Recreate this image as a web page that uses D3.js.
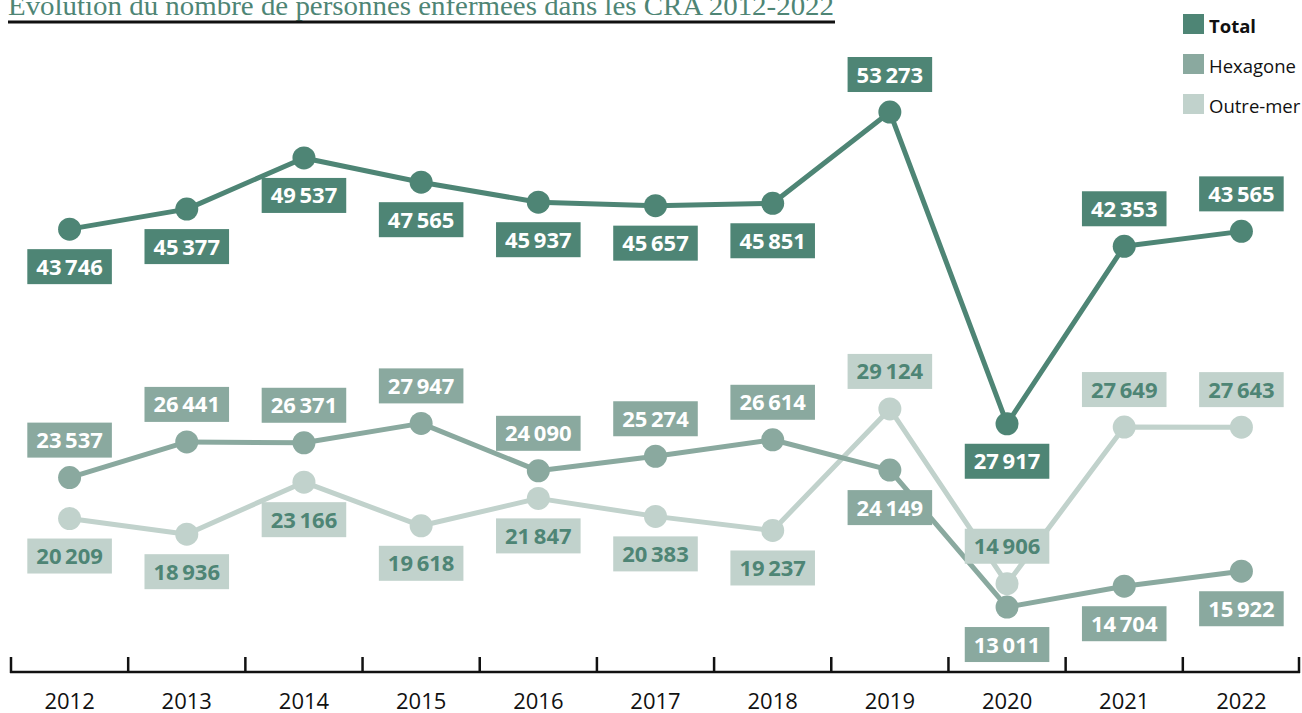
<!DOCTYPE html>
<html><head><meta charset="utf-8">
<script src="https://cdn.jsdelivr.net/npm/d3@7"></script>
<style>body{margin:0;background:#fff}svg{display:block}</style>
</head><body>
<svg id="c" width="1302" height="713"></svg>
<script>
const years = [2012,2013,2014,2015,2016,2017,2018,2019,2020,2021,2022];
const total = [43746,45377,49537,47565,45937,45657,45851,53273,27917,42353,43565];
const hexagone = [23537,26441,26371,27947,24090,25274,26614,24149,13011,14704,15922];
const outremer = [20209,18936,23166,19618,21847,20383,19237,29124,14906,27649,27643];
// label side: 1 = below point, -1 = above point
const totalSide = [1,1,1,1,1,1,1,-1,1,-1,-1];
const hexSide = [-1,-1,-1,-1,-1,-1,-1,1,1,1,1];
const omSide = [1,1,1,1,1,1,1,-1,-1,-1,-1];
const seriesNames = ["Total","Hexagone","Outre-mer"];

const C_TOTAL = "#4e8575", C_HEX = "#8aa99f", C_OM = "#c1d2cc";
const svg = d3.select("#c");
const fmt = v => { const s = String(v); return s.slice(0, s.length-3) + "\u2009" + s.slice(-3); };

const x = d3.scaleBand().domain(years).range([11, 1300]);
const y = d3.scaleLinear().domain([0, 60000]).range([767, 29.3]);
const cx = d => x(d) + x.bandwidth()/2;

// Title
svg.append("text").attr("x", 8).attr("y", 15)
  .attr("font-family", "Liberation Serif, serif").attr("font-size", 27)
  .attr("fill", C_TOTAL).attr("textLength", 826).attr("lengthAdjust", "spacingAndGlyphs")
  .text("Évolution du nombre de personnes enfermées dans les CRA 2012-2022");
svg.append("line").attr("x1", 8).attr("x2", 835).attr("y1", 22).attr("y2", 22)
  .attr("stroke", "#111").attr("stroke-width", 3);

// Axis
const axis = d3.axisBottom(x).tickSize(0).tickPadding(0);
const ag = svg.append("g").attr("transform", "translate(0,672)").call(axis);
ag.select(".domain").remove();
ag.selectAll("text").attr("font-family", "Open Sans, sans-serif").attr("font-size", 22)
  .attr("fill", "#111").attr("dy", null).attr("y", 37);
svg.append("line").attr("x1", 10).attr("x2", 1300).attr("y1", 672).attr("y2", 672)
  .attr("stroke", "#111").attr("stroke-width", 2.5);
const edges = years.map(d => x(d)).concat([x.range()[1]]);
svg.selectAll(".tk").data(edges).enter().append("line")
  .attr("x1", d => Math.min(Math.max(d, 11), 1299)).attr("x2", d => Math.min(Math.max(d, 11), 1299))
  .attr("y1", 673).attr("y2", 657).attr("stroke", "#111").attr("stroke-width", 2.5);

const line = d3.line().x(d => cx(d.year)).y(d => y(d.v));

function drawSeries(vals, color) {
  const data = years.map((yr, i) => ({year: yr, v: vals[i]}));
  svg.append("path").datum(data).attr("d", line).attr("fill", "none")
    .attr("stroke", color).attr("stroke-width", 5).attr("stroke-linejoin", "round");
  svg.append("g").selectAll("circle").data(data).enter().append("circle")
    .attr("cx", d => cx(d.year)).attr("cy", d => y(d.v)).attr("r", 11.5).attr("fill", color);
}
function drawLabels(vals, sides, bg, fg) {
  const g = svg.append("g");
  years.forEach((yr, i) => {
    const px = cx(yr), py = y(vals[i]) + sides[i]*37.5;
    const lg = g.append("g");
    const t = lg.append("text").attr("x", px).attr("y", py + 8).attr("text-anchor", "middle")
      .attr("font-family", "Open Sans, sans-serif").attr("font-weight", 700).attr("font-size", 22)
      .attr("fill", fg).text(fmt(vals[i]));
    const w = t.node().getComputedTextLength() + 18;
    lg.insert("rect", "text").attr("x", px - w/2).attr("y", py - 17.5).attr("width", w).attr("height", 35).attr("fill", bg);
  });
}

drawSeries(outremer, C_OM);
drawSeries(hexagone, C_HEX);
drawSeries(total, C_TOTAL);
drawLabels(outremer, omSide, C_OM, C_TOTAL);
drawLabels(hexagone, hexSide, C_HEX, "#fff");
drawLabels(total, totalSide, C_TOTAL, "#fff");

// Legend
const legColors = [C_TOTAL, C_HEX, C_OM];
const lg = svg.append("g").selectAll("g").data(seriesNames).enter().append("g")
  .attr("transform", (d, i) => `translate(1183,${14 + i*40})`);
lg.append("rect").attr("width", 21).attr("height", 20).attr("fill", (d, i) => legColors[i]);
lg.append("text").attr("x", 26).attr("y", 19).attr("font-family", "Open Sans, sans-serif")
  .attr("font-size", 18.5).attr("font-weight", (d, i) => i === 0 ? 700 : 400).attr("fill", "#111").text(d => d);
</script>
</body></html>
